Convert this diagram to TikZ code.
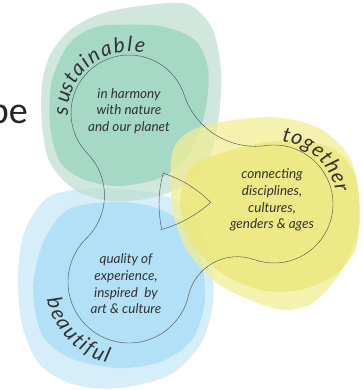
\documentclass[tikz,border=0pt]{standalone}
\usepackage{fontspec}
\usetikzlibrary{calc}
\newfontfamily\latofont{Lato}
\newfontfamily\slidefont{Carlito}
\definecolor{greenlight}{RGB}{191,223,210}
\definecolor{greendark}{RGB}{152,212,190}
\definecolor{yellowlight}{RGB}{240,238,147}
\definecolor{yellowdark}{RGB}{236,231,121}
\definecolor{bluelight}{RGB}{200,231,248}
\definecolor{bluedark}{RGB}{167,220,245}
\definecolor{linegray}{RGB}{85,85,85}
\definecolor{textgray}{RGB}{50,50,50}

\begin{document}
\begin{tikzpicture}[x=1pt,y=1pt,
    blob/.style={fill opacity=0.75},
    outline/.style={draw=linegray,line width=0.45pt},
    body node/.style={font=\latofont\itshape\fontsize{13.5}{16.7}\selectfont,text=textgray,align=center,inner sep=0pt},
    arc letter/.style={font=\latofont\itshape\fontsize{21}{24}\selectfont,text=textgray,anchor=base,inner sep=0pt}]
  \useasboundingbox (0,0) rectangle (362,390);
  % circle centres and neck centres
  \coordinate (G) at (129,277);
  \coordinate (B) at (129,108);
  \coordinate (Y) at (274,186);
  \coordinate (NGY) at (255.3,318.7);
  \coordinate (NBY) at (237.2,83.3);
  \coordinate (NL) at (44.5,194.6);
  % coloured blobs
  \fill[blob,fill=bluelight] plot[smooth cycle] coordinates {(50,194) (100,202) (150,198) (185,185) (205,155) (213,115) (212,80) (200,45) (170,15) (120,2) (75,5) (40,25) (22,65) (18,115) (25,160)};
  \fill[blob,fill=bluedark] plot[smooth cycle] coordinates {(67,180) (110,188) (150,184) (182,168) (200,135) (205,90) (192,50) (160,28) (117,22) (70,32) (42,55) (33,100) (43,147)};
  \fill[blob,fill=greenlight] plot[smooth cycle] coordinates {(187,386) (212,362) (221,320) (219,275) (210,235) (190,207) (150,192) (110,189) (75,200) (50,227) (42,265) (42,305) (50,335) (70,360) (100,376) (140,384)};
  \fill[blob,fill=greendark] plot[smooth cycle] coordinates {(110,365) (160,364) (195,350) (208,322) (207,290) (200,260) (185,230) (160,212) (120,204) (85,210) (60,228) (50,265) (52,310) (68,345) (88,360)};
  \fill[blob,fill=yellowlight] plot[smooth cycle] coordinates {(173,240) (200,263) (267,273) (317,263) (347,237) (358,203) (357,157) (340,117) (313,87) (283,80) (250,90) (217,107) (187,140) (172,183)};
  \fill[blob,fill=yellowdark] plot[smooth cycle] coordinates {(190,222) (222,237) (262,247) (300,250) (335,240) (355,215) (360,175) (355,140) (335,115) (300,100) (260,100) (220,118) (190,150) (180,185)};
  % thin outline
  \draw[outline] ($(G)+(224.3:58)$) arc[start angle=224.3,end angle=18.3,radius=58]
    -- ($(NGY)+(198.3:75)$) arc[start angle=198.3,end angle=278,radius=75]
    -- ($(Y)+(98:59)$) arc[start angle=98,end angle=-109.7,radius=59]
    -- ($(NBY)+(70.3:50)$) arc[start angle=70.3,end angle=167.2,radius=50]
    -- ($(B)+(-12.9:61)$) arc[start angle=-12.9,end angle=-225.7,radius=61]
    -- ($(NL)+(-45.7:60)$) arc[start angle=-45.7,end angle=44.3,radius=60] -- cycle;
  \draw[outline] ($(B)+(72.55:114)$) arc[start angle=72.55,end angle=44.3,radius=114]
    -- ($(G)+(-47.65:121)$) arc[start angle=-47.65,end angle=-74.3,radius=121]
    -- ($(Y)+(192.8:115)$) arc[start angle=192.8,end angle=164.5,radius=115] -- cycle;
  % words on the circles, one letter at a time
  \foreach \ch/\a [count=\i] in {s/178.5,u/166.1,s/157.6,t/149.1,a/139.4,i/130.8,n/121.8,a/110.1,b/98.3,l/89.2,e/80.6}
    \node[arc letter,rotate=\a-90] (sus\i) at ($(G)+(\a:61)$) {\ch};
  \foreach \ch/\a [count=\i] in {t/79.5,o/70.5,g/60.2,e/50.2,t/41.7,h/32.7,e/22.3,r/13.6}
    \node[arc letter,rotate=\a-90] (tog\i) at ($(Y)+(\a:63)$) {\ch};
  \foreach \ch/\a [count=\i] in {b/195.6,e/204.4,a/212.8,u/221.5,t/229.1,i/234.5,f/239.6,u/246.9,l/253.7}
    \node[arc letter,rotate=\a+90] (bea\i) at ($(B)+(\a:84)$) {\ch};
  \node[body node] (harmony) at (129,279) {in harmony\\with nature\\and our planet};
  \node[body node] (connecting) at (272,190) {connecting\\disciplines,\\cultures,\\genders \& ages};
  \node[body node] (quality) at (126,106) {quality of\\experience,\\inspired~ by\\art \& culture};
  \node[font=\slidefont\fontsize{38}{40}\selectfont,text=black!85,anchor=base east,inner sep=0pt] (be) at (28,266) {be};
\end{tikzpicture}
\end{document}
